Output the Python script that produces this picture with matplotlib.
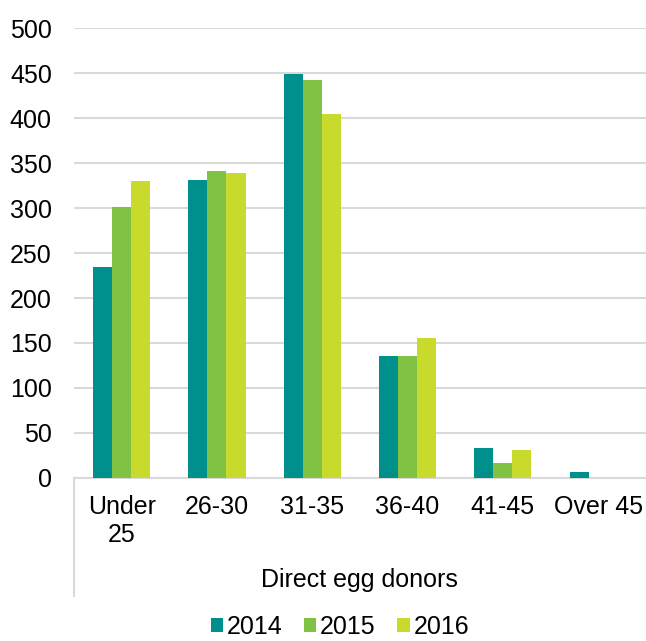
import matplotlib
matplotlib.use("Agg")
import matplotlib.pyplot as plt
from matplotlib.lines import Line2D
import numpy as np

plt.rcParams['font.family'] = ['Liberation Sans', 'DejaVu Sans']

categories = ["Under\n25", "26-30", "31-35", "36-40", "41-45", "Over 45"]
years = ["2014", "2015", "2016"]
donors_2014 = [234, 331, 449, 135, 33, 7]
donors_2015 = [301, 341, 442, 136, 17, 0]
donors_2016 = [330, 339, 404, 155, 31, 0]
group_label = "Direct egg donors"

colors = ["#00908C", "#80C342", "#C8DB2C"]

fig = plt.figure(figsize=(6.46, 6.41), dpi=100)
ax = fig.add_axes([0.1146, 0.2543, 0.885, 0.702])

x = np.arange(len(categories))
width = 0.2
series = [donors_2014, donors_2015, donors_2016]
for i, (vals, year) in enumerate(zip(series, years)):
    ax.bar(x + (i - 1) * width, vals, width, color=colors[i], label=year, zorder=3)

ax.set_xlim(-0.5, len(categories) - 0.5)
ax.set_ylim(0, 500)
ax.set_yticks(np.arange(0, 501, 50))
ax.yaxis.grid(True, color="#d9d9d9", linewidth=1.5, zorder=0)
ax.set_axisbelow(True)

for side in ("top", "right", "left"):
    ax.spines[side].set_visible(False)
ax.spines["bottom"].set_color("#d9d9d9")
ax.spines["bottom"].set_linewidth(1.5)

ax.set_xticks(x)
ax.set_xticklabels(categories, fontsize=18, linespacing=1.25)
ax.tick_params(axis="x", length=0, pad=12)
ax.tick_params(axis="y", length=0, labelsize=18, pad=16)

# multi-level category separator and group label
ax.add_line(Line2D([0, 0], [0, -0.262], transform=ax.transAxes,
                   color="#d9d9d9", linewidth=1.5, clip_on=False))
ax.text(0.5, -0.227, group_label, transform=ax.transAxes, ha="center",
        va="center", fontsize=18)

fig.legend(loc="center", bbox_to_anchor=(0.526, 0.022), ncol=3, frameon=False,
           fontsize=18, handlelength=0.5, handleheight=0.5, handletextpad=0.15,
           columnspacing=0.85, borderpad=0)

fig.savefig("out.png", dpi=100)
